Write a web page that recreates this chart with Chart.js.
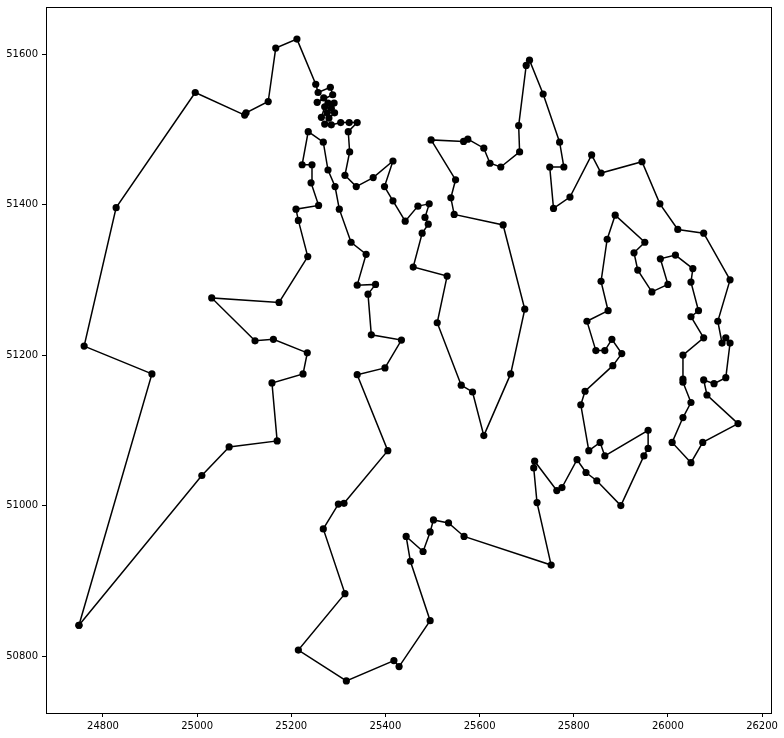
<!DOCTYPE html>
<html>
<head>
<meta charset="utf-8">
<script src="https://cdn.jsdelivr.net/npm/chart.js@4/dist/chart.umd.min.js"></script>
<style>
  html, body { margin: 0; padding: 0; background: #fff; }
  #wrap { width: 784px; height: 738px; position: relative; }
</style>
</head>
<body>
<div id="wrap"><canvas id="c"></canvas></div>
<script>
// Tour coordinates, in visiting order
const tourX = [24749,25010,25068,25170,25159,25225,25234,25162,25123,25031,25174,25235,25215,25210,25258,25242,25244,25223,25236,25268,25278,25293,25302,25327,25359,25340,25379,25363,25370,25434,25399,25340,25405,25312,25300,25268,25314,25215,25317,25418,25429,25495,25453,25444,25480,25495,25502,25534,25567,25752,25722,25715,25717,25764,25775,25807,25826,25849,25900,25949,25958,25958,25866,25856,25832,25815,25824,25883,25902,25881,25866,25847,25828,25873,25858,25871,25888,25951,25928,25936,25966,26000,25984,26016,26053,26049,26065,26049,26076,26032,26032,26032,26049,26032,26009,26049,26074,26149,26083,26076,26098,26123,26132,26123,26115,26106,26132,26076,26021,25983,25945,25858,25838,25792,25757,25749,25779,25770,25735,25706,25699,25683,25685,25645,25622,25609,25575,25566,25497,25549,25539,25546,25650,25696,25666,25609,25585,25561,25510,25531,25459,25478,25491,25484,25493,25469,25442,25416,25398,25416,25374,25338,25314,25324,25321,25340,25323,25305,25285,25271,25280,25292,25276,25264,25271,25285,25291,25278,25269,25255,25288,25283,25257,25252,25212,25167,25151,25104,25101,24996,24828,24760,24904,24749];
const tourY = [50841,51040,51078,51086,51163,51175,51203,51221,51219,51276,51270,51331,51379,51394,51399,51429,51453,51453,51497,51483,51446,51424,51394,51350,51334,51293,51294,51281,51227,51220,51183,51174,51073,51003,51002,50969,50883,50808,50767,50794,50786,50847,50926,50959,50939,50965,50981,50977,50959,50921,51004,51050,51059,51020,51024,51061,51044,51033,51000,51066,51076,51100,51066,51084,51073,51134,51152,51186,51202,51221,51206,51206,51245,51259,51298,51354,51386,51350,51336,51313,51284,51294,51328,51333,51315,51297,51259,51251,51223,51200,51168,51164,51137,51117,51084,51057,51084,51109,51147,51167,51162,51170,51216,51223,51216,51245,51300,51362,51367,51401,51457,51442,51466,51410,51395,51450,51450,51483,51547,51592,51585,51505,51470,51450,51455,51475,51487,51484,51486,51433,51409,51387,51373,51261,51175,51093,51151,51160,51243,51305,51317,51362,51374,51383,51401,51398,51378,51405,51424,51458,51436,51424,51439,51470,51497,51509,51509,51509,51506,51507,51515,51522,51522,51516,51530,51528,51535,51535,51542,51536,51546,51556,51549,51560,51620,51608,51537,51522,51519,51549,51396,51212,51175,50841];
const xTicks = [24800,25000,25200,25400,25600,25800,26000,26200];
const yTicks = [50800,51000,51200,51400,51600];

const points = tourX.map((x, i) => ({ x: x, y: tourY[i] }));

function padded(arr) {
  const lo = Math.min(...arr), hi = Math.max(...arr);
  const m = (hi - lo) * 0.05;
  return { min: lo - m, max: hi + m };
}
const xr = padded(tourX), yr = padded(tourY);

const frame = {
  id: 'frame',
  afterDraw(chart) {
    const a = chart.chartArea, ctx = chart.ctx;
    ctx.save();
    ctx.strokeStyle = '#000';
    ctx.lineWidth = 1;
    ctx.strokeRect(Math.round(a.left) + 0.5, Math.round(a.top) + 0.5,
                   Math.round(a.right - a.left), Math.round(a.bottom - a.top));
    ctx.restore();
  }
};

const tickFont = { family: 'DejaVu Sans', size: 10 };

new Chart(document.getElementById('c'), {
  type: 'scatter',
  data: {
    datasets: [{
      data: points,
      showLine: true,
      borderColor: '#000',
      borderWidth: 1.5,
      backgroundColor: '#000',
      pointBackgroundColor: '#000',
      pointBorderColor: '#000',
      pointRadius: 3.6,
      pointBorderWidth: 0,
      tension: 0
    }]
  },
  options: {
    responsive: true,
    maintainAspectRatio: false,
    animation: false,
    layout: { padding: { left: 0, top: 7, right: 13, bottom: 0 } },
    plugins: { legend: { display: false }, tooltip: { enabled: false } },
    scales: {
      x: {
        type: 'linear',
        min: xr.min, max: xr.max,
        afterBuildTicks(axis) { axis.ticks = xTicks.map(v => ({ value: v })); },
        afterFit(scale) { scale.height = 25; scale.paddingLeft = 0; scale.paddingRight = 0; },
        grid: { drawOnChartArea: false, drawTicks: true, tickLength: 4, color: '#000', tickWidth: 1 },
        border: { display: true, color: '#000', width: 1 },
        ticks: { color: '#000', font: tickFont, padding: 3, maxRotation: 0, autoSkip: false,
                 callback: v => String(v) }
      },
      y: {
        type: 'linear',
        min: yr.min, max: yr.max,
        afterBuildTicks(axis) { axis.ticks = yTicks.map(v => ({ value: v })); },
        afterFit(scale) { scale.width = 46; scale.paddingTop = 0; scale.paddingBottom = 0; },
        grid: { drawOnChartArea: false, drawTicks: true, tickLength: 4, color: '#000', tickWidth: 1 },
        border: { display: true, color: '#000', width: 1 },
        ticks: { color: '#000', font: tickFont, padding: 4, autoSkip: false,
                 callback: v => String(v) }
      }
    }
  },
  plugins: [frame]
});
</script>
</body>
</html>
